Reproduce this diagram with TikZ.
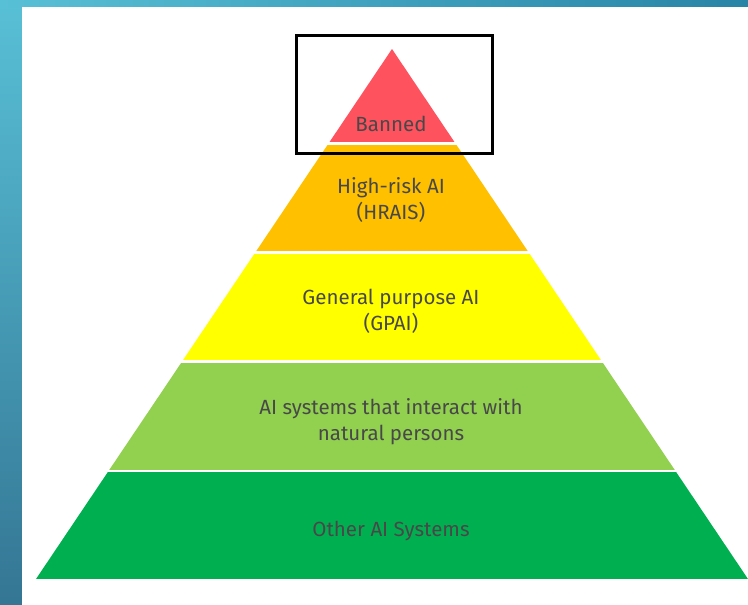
\documentclass[tikz,border=0pt]{standalone}
\usepackage{fontspec}
\setmainfont{Fira Sans}
\usetikzlibrary{positioning}

\definecolor{stripA}{RGB}{88,192,214}
\definecolor{stripB}{RGB}{40,132,166}
\definecolor{stripC}{RGB}{52,118,148}
\definecolor{tierred}{RGB}{255,82,95}
\definecolor{tierorange}{RGB}{255,192,0}
\definecolor{tieryellow}{RGB}{255,255,0}
\definecolor{tierlime}{RGB}{146,208,80}
\definecolor{tiergreen}{RGB}{0,176,80}
\definecolor{labelgray}{RGB}{72,72,72}

\begin{document}
\begin{tikzpicture}[
            x=1pt,y=-1pt,
            tierlabel/.style={align=center,text=labelgray,font=\fontsize{20.5}{26}\selectfont,inner sep=0pt},
            framebox/.style={rectangle,draw=black,line width=3.5pt,minimum width=196pt,minimum height=118pt,inner sep=0pt}
        ]
            \useasboundingbox (0,0) rectangle (748,605);
            % frame strips
            \shade[top color=stripA,bottom color=stripC] (0,0) rectangle (22,605);
            \shade[left color=stripA,right color=stripB] (0,0) rectangle (748,7);
            \fill[white] (22,7) rectangle (748,605);

            % pyramid, cut into tiers
            \begin{scope}
                \clip (392,49) -- (36,579) -- (748,579) -- cycle;
                \fill[tierred] (0,40) rectangle (748,142);
                \fill[tierorange] (0,145) rectangle (748,251);
                \fill[tieryellow] (0,254) rectangle (748,360);
                \fill[tierlime] (0,363) rectangle (748,470);
                \fill[tiergreen] (0,472) rectangle (748,579);
            \end{scope}

            \node[tierlabel] (banned) at (391,124) {Banned};
            \node[tierlabel] (hrais) at (391,200) {High-risk AI\\(HRAIS)};
            \node[tierlabel] (gpai) at (391,311) {General purpose AI\\(GPAI)};
            \node[tierlabel] (interact) at (391,422) {AI systems that interact with\\natural persons};
            \node[tierlabel] (other) at (391,531) {Other AI Systems};

            \node[framebox] (bannedbox) at (394.5,94.5) {};
        \end{tikzpicture}
\end{document}
